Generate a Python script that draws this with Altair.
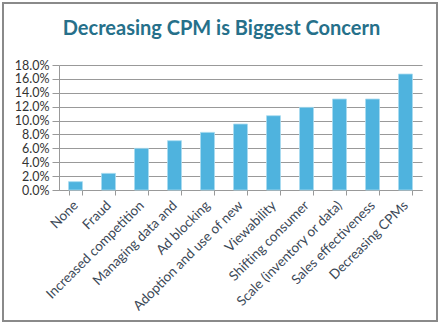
import altair as alt
import pandas as pd

categories = ["None", "Fraud", "Increased competition", "Managing data and",
              "Ad blocking", "Adoption and use of new", "Viewability",
              "Shifting consumer", "Scale (inventory or data)",
              "Sales effectiveness", "Decreasing CPMs"]
shares = [0.012, 0.024, 0.060, 0.071, 0.083, 0.095, 0.107, 0.119, 0.131, 0.131, 0.167]
y_ticks = [0.0, 0.02, 0.04, 0.06, 0.08, 0.10, 0.12, 0.14, 0.16, 0.18]

df = pd.DataFrame({"concern": categories, "share": shares})

bars = alt.Chart(df).mark_bar(color="#4fb3de", stroke="#a9dcf0", strokeWidth=0.8).encode(
    x=alt.X("concern:N", sort=categories, title=None,
            scale=alt.Scale(paddingInner=0.576, paddingOuter=0.288),
            axis=alt.Axis(labelAngle=-45, labelAlign="right", labelBaseline="middle",
                          labelFontSize=13.5, labelColor="#3b4856", labelFont="Lato",
                          labelPadding=8, tickBand="extent", tickSize=5,
                          tickColor="#999999", domainColor="#999999", grid=False,
                          labelOverlap=False)),
    y=alt.Y("share:Q", title=None,
            scale=alt.Scale(domain=[0, 0.18], nice=False),
            axis=alt.Axis(values=y_ticks, format=".1%", labelFontSize=12.5,
                          labelColor="#333333", labelFont="Lato", labelPadding=3,
                          tickSize=7, tickColor="#999999", domainColor="#999999",
                          gridColor="#999999", gridWidth=1)),
)

frame = alt.Chart(pd.DataFrame({"a": [0]})).mark_rect(
    fill=None, stroke="#8a8a8a", strokeWidth=2
).encode(
    x=alt.value(-56), x2=alt.value(378), y=alt.value(-62), y2=alt.value(256)
)

chart = alt.layer(bars, frame).properties(
    width=363, height=125,
    padding={"left": 59, "top": 65, "right": 21, "bottom": 135},
    autosize=alt.AutoSizeParams(type="none"),
    title=alt.Title("Decreasing CPM is Biggest Concern", font="Lato", fontSize=20,
                    fontWeight="bold", color="#26708a", dx=-19, offset=-37),
    background="white",
).configure_view(stroke=None)

chart.save("out.html", embed_options={"renderer": "svg", "actions": False})
